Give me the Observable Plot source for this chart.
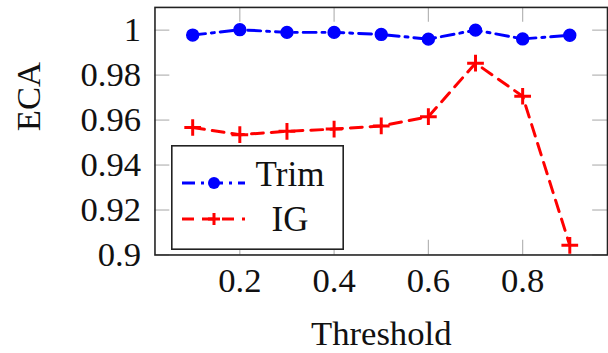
<!DOCTYPE html>
<html>
<head>
<meta charset="utf-8">
<script src="https://cdn.jsdelivr.net/npm/d3@7"></script>
<script src="https://cdn.jsdelivr.net/npm/@observablehq/plot@0.6"></script>
<style>
  html, body { margin: 0; padding: 0; background: #fff; overflow: hidden; }
  #wrap { position: relative; width: 608px; height: 353px; overflow: hidden; }
  #wrap svg { font-family: "Liberation Serif", "DejaVu Serif", serif; }
  #legend { position: absolute; left: 171px; top: 145px; }
</style>
</head>
<body>
<div id="wrap"></div>
<script>
const thresholds = [0.1, 0.2, 0.3, 0.4, 0.5, 0.6, 0.7, 0.8, 0.9];
const trimValues = [0.9978, 1.0002, 0.9990, 0.9990, 0.9981, 0.9960, 1.0000, 0.9961, 0.9977];
const igValues   = [0.9567, 0.9535, 0.9550, 0.9560, 0.9574, 0.9615, 0.9853, 0.9706, 0.9043];
const seriesNames = ["Trim", "IG"];
const xTicks = [0.2, 0.4, 0.6, 0.8];
const yTicks = [0.9, 0.92, 0.94, 0.96, 0.98, 1];
const xLabel = "Threshold";
const yLabel = "ECA";

const blue = "#0000ff", red = "#ff0000";
const trimDash = "13,6,3,6", igDash = "12,8";

const trim = thresholds.map((x, i) => ({x, y: trimValues[i]}));
const ig = thresholds.map((x, i) => ({x, y: igValues[i]}));

const fs = 35;
const tickGray = "#b4b4b4";
const W = 614, H = 353, mL = 156, mR = 1, mT = 7, mB = 96;
const plotH = H - mT - mB, plotW = W - mL - mR, tl = 15;

const chart = Plot.plot({
  width: W, height: H,
  marginLeft: mL, marginRight: mR, marginTop: mT, marginBottom: mB,
  style: {fontFamily: '"Liberation Serif", serif', background: "white"},
  x: {domain: [0.02, 0.98], axis: null},
  y: {domain: [0.9, 1.0101], axis: null},
  marks: [
    // inner gray tick marks on all four sides
    Plot.tickX(xTicks, {x: d => d, stroke: tickGray, strokeWidth: 1.2, insetTop: plotH - tl}),
    Plot.tickX(xTicks, {x: d => d, stroke: tickGray, strokeWidth: 1.2, insetBottom: plotH - tl}),
    Plot.tickY(yTicks, {y: d => d, stroke: tickGray, strokeWidth: 1.2, insetRight: plotW - tl}),
    Plot.tickY(yTicks, {y: d => d, stroke: tickGray, strokeWidth: 1.2, insetLeft: plotW - tl}),
    Plot.axisX(xTicks, {tickSize: 0, tickPadding: 13, fontSize: fs, fill: "#111", tickFormat: d => String(d), label: null}),
    Plot.axisY(yTicks, {tickSize: 0, tickPadding: 14, fontSize: fs, fill: "#111", tickFormat: d => String(d), label: null}),
    Plot.text([xLabel], {frameAnchor: "bottom", dy: 80, fontSize: fs, fill: "#111", lineAnchor: "middle"}),
    Plot.text([yLabel], {frameAnchor: "left", dx: -127, rotate: -90, fontSize: fs, fill: "#111", lineAnchor: "middle"}),
    Plot.line(trim, {x: "x", y: "y", stroke: blue, strokeWidth: 3, strokeDasharray: trimDash}),
    Plot.dot(trim, {x: "x", y: "y", r: 6, fill: blue, stroke: blue}),
    Plot.line(ig, {x: "x", y: "y", stroke: red, strokeWidth: 3, strokeDasharray: igDash}),
    Plot.dot(ig, {x: "x", y: "y", symbol: "plus", r: 5.5, stroke: red, strokeWidth: 3}),
    Plot.frame({stroke: "#222", strokeWidth: 1.6})
  ]
});
chart.style.position = "absolute";
chart.style.left = "0px";
chart.style.top = "0px";
document.getElementById("wrap").appendChild(chart);

// Legend box (inside plot area, lower left)
const lw = 173, lh = 105;
const leg = d3.create("svg").attr("id", "legend").attr("width", lw).attr("height", lh);
leg.append("rect").attr("x", 0.8).attr("y", 0.8).attr("width", lw - 1.6).attr("height", lh - 1.6)
  .attr("fill", "white").attr("stroke", "#222").attr("stroke-width", 1.6);
const entries = [
  {name: seriesNames[0], color: blue, dash: trimDash, ly: 38, ty: 41, marker: "circle"},
  {name: seriesNames[1], color: red, dash: igDash, ly: 74, ty: 86, marker: "plus"}
];
for (const e of entries) {
  leg.append("line").attr("x1", 11).attr("x2", 74).attr("y1", e.ly).attr("y2", e.ly)
    .attr("stroke", e.color).attr("stroke-width", 3).attr("stroke-dasharray", e.dash);
  if (e.marker === "circle") {
    leg.append("circle").attr("cx", 43).attr("cy", e.ly).attr("r", 6).attr("fill", e.color);
  } else {
    leg.append("path").attr("d", `M${43 - 6},${e.ly}H${43 + 6}M43,${e.ly - 6}V${e.ly + 6}`)
      .attr("stroke", e.color).attr("stroke-width", 3).attr("fill", "none");
  }
  leg.append("text").attr("x", 119).attr("y", e.ty).attr("text-anchor", "middle")
    .attr("font-size", fs).attr("fill", "#111")
    .attr("font-family", '"Liberation Serif", serif').text(e.name);
}
document.getElementById("wrap").appendChild(leg.node());
</script>
</body>
</html>
